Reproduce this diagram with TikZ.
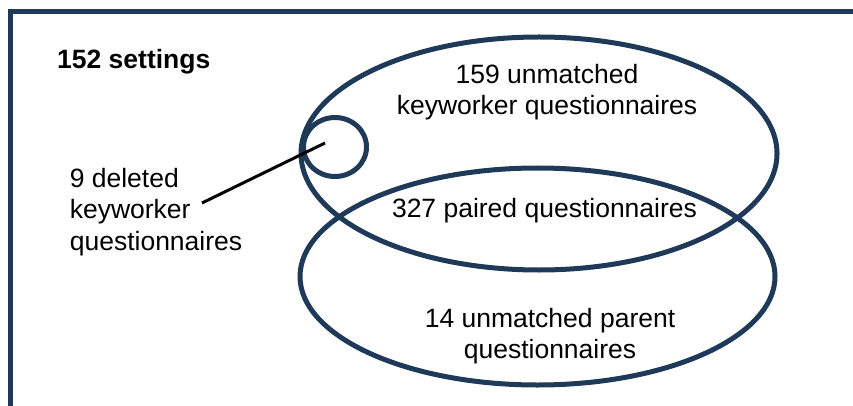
\documentclass[tikz,border=0pt]{standalone}
\usepackage{fontspec}
\setmainfont{Liberation Sans}
\definecolor{navy}{HTML}{1F3958}
\begin{document}
\begin{tikzpicture}[x=1pt,y=-1pt,
  set/.style={draw=navy,line width=5pt},
  lbl/.style={font=\fontsize{26.5}{30.5}\selectfont,inner sep=0pt,align=center},
  frame/.style={draw=navy,line width=5pt}]
\useasboundingbox (0,0) rectangle (853,406);
% frame, running off the right and bottom edges
\draw[frame] (10.5,410) -- (10.5,11.5) -- (860,11.5);
\node[lbl,anchor=base west,font=\fontsize{26.5}{30.5}\selectfont\bfseries] (title) at (57,69) {152 settings};
% the two sets and the small deleted subset
\draw[set] (539,153.5) ellipse[x radius=238,y radius=116.5];
\draw[set] (537.5,276.5) ellipse[x radius=237.5,y radius=108.5];
\draw[set] (335,147) ellipse[x radius=31.5,y radius=29.5];
\node[lbl] (kw) at (547,92) {159 unmatched\\keyworker questionnaires};
\node[lbl] (pair) at (544.5,211) {327 paired questionnaires};
\node[lbl] (par) at (550,336) {14 unmatched parent\\questionnaires};
\node[lbl,align=left,font=\fontsize{26.5}{31.5}\selectfont] (del) at (156,212) {9 deleted\\keyworker\\questionnaires};
\coordinate (from) at (202,203);
\coordinate (to) at (325,143);
\draw[line width=3pt] (from) -- (to);
\end{tikzpicture}
\end{document}
